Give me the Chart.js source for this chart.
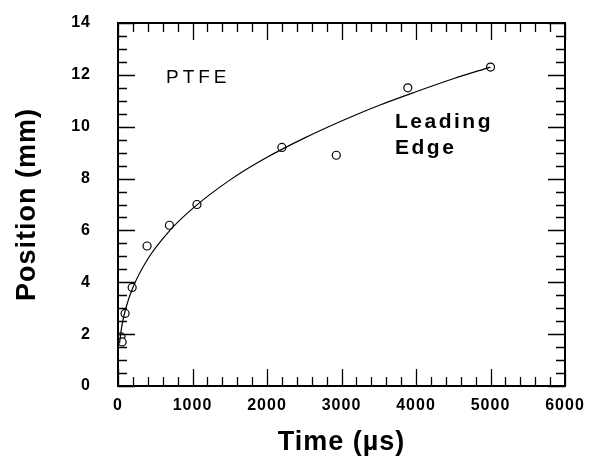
<!DOCTYPE html>
<html>
<head>
<meta charset="utf-8">
<script src="https://cdn.jsdelivr.net/npm/chart.js@4.4.0/dist/chart.umd.min.js"></script>
<style>
  html, body { margin: 0; padding: 0; background: #fff; overflow: hidden; }
  .chart-wrapper { width: 592px; height: 471px; position: relative; }
</style>
</head>
<body>
<div class="chart-wrapper"><canvas id="positionChart"></canvas></div>
<script>
  // measured points: time (µs) / position (mm)
  let pointTimes = [40, 55, 95, 190, 390, 690, 1060, 2200, 2930, 3890, 5000];
  let pointPositions = [1.9, 1.7, 2.8, 3.8, 5.4, 6.2, 7.0, 9.2, 8.9, 11.5, 12.3];

  // fitted curve
  let curveTimes = [20, 50, 100, 200, 400, 700, 1000, 1500, 2000, 2500, 3000, 3500, 4000, 4500, 5000];
  let curvePositions = [1.64, 2.29, 2.95, 3.8, 4.9, 6.01, 6.84, 7.94, 8.82, 9.56, 10.22, 10.82, 11.35, 11.85, 12.3];

  // axis ticks
  let xTickValues = [0, 1000, 2000, 3000, 4000, 5000, 6000];
  let yTickValues = [0, 2, 4, 6, 8, 10, 12, 14];

  // text labels inside the plot
  let noteTexts = ["PTFE", "Leading", "Edge"];
  let noteTimes = [644, 3718, 3718];
  let notePositions = [11.7, 9.96, 8.96];

  let fontFamily = "'Liberation Sans', Arial, Helvetica, sans-serif";

  // ticks on all four sides, pointing inward, plus the frame
  const frameTicks = {
    id: 'frameTicks',
    beforeDraw(chart) {
      chart.ctx.letterSpacing = '1px';
    },
    afterDatasetsDraw(chart) {
      const { ctx, chartArea: a, scales: { x, y } } = chart;
      ctx.save();
      ctx.strokeStyle = '#000';
      ctx.lineWidth = 1.3;
      ctx.beginPath();
      for (let v = x.min; v <= x.max; v += 200) {
        const px = Math.round(x.getPixelForValue(v)) + 0.5;
        const len = v % 1000 === 0 ? 17 : 9;
        ctx.moveTo(px, a.bottom); ctx.lineTo(px, a.bottom - len);
        ctx.moveTo(px, a.top); ctx.lineTo(px, a.top + len);
      }
      for (let v = y.min; v <= y.max; v += 0.5) {
        const py = Math.round(y.getPixelForValue(v)) + 0.5;
        const len = v % 2 === 0 ? 17 : 9;
        ctx.moveTo(a.left, py); ctx.lineTo(a.left + len, py);
        ctx.moveTo(a.right, py); ctx.lineTo(a.right - len, py);
      }
      ctx.stroke();
      ctx.lineWidth = 2;
      ctx.strokeRect(a.left, a.top, a.right - a.left, a.bottom - a.top);

      // notes
      ctx.fillStyle = '#000';
      ctx.textAlign = 'left';
      ctx.textBaseline = 'alphabetic';
      noteTexts.forEach((t, i) => {
        if (i === 0) {
          ctx.font = 'normal 19px ' + fontFamily;
          ctx.letterSpacing = '4px';
        } else {
          ctx.font = 'bold 21px ' + fontFamily;
          ctx.letterSpacing = '2.5px';
        }
        ctx.fillText(t, x.getPixelForValue(noteTimes[i]), y.getPixelForValue(notePositions[i]));
      });
      ctx.restore();
    }
  };

  // drop the label overhang padding so the plot box sits where the layout padding says
  function noPad(s) {
    s.paddingLeft = 0; s.paddingRight = 0; s.paddingTop = 0; s.paddingBottom = 0;
  }

  let ctx = document.getElementById('positionChart').getContext('2d');
  new Chart(ctx, {
    type: 'scatter',
    data: {
      datasets: [
        {
          label: 'Fit',
          data: curveTimes.map((t, i) => ({ x: t, y: curvePositions[i] })),
          showLine: true,
          borderColor: '#000',
          borderWidth: 1.2,
          pointRadius: 0,
          tension: 0.4,
          cubicInterpolationMode: 'monotone',
        },
        {
          label: 'Leading Edge',
          data: pointTimes.map((t, i) => ({ x: t, y: pointPositions[i] })),
          pointStyle: 'circle',
          pointRadius: 4,
          borderColor: '#000',
          backgroundColor: '#fff',
          borderWidth: 1.2,
        },
      ],
    },
    options: {
      responsive: true,
      maintainAspectRatio: false,
      animation: false,
      layout: { padding: { left: 6, right: 27, top: 23, bottom: 10 } },
      plugins: { legend: { display: false }, tooltip: { enabled: false } },
      scales: {
        x: {
          type: 'linear',
          min: 0,
          max: 6000,
          afterBuildTicks: s => { s.ticks = xTickValues.map(v => ({ value: v })); },
          afterFit: s => { s.height = 75; noPad(s); },
          grid: { display: false, drawTicks: false },
          border: { display: false },
          ticks: {
            color: '#000',
            padding: 10,
            maxRotation: 0,
            callback: v => String(v),
            font: { family: fontFamily, size: 16, weight: 'bold' },
          },
          title: {
            display: true,
            text: 'Time (µs)',
            color: '#000',
            font: { family: fontFamily, size: 27, weight: 'bold' },
            padding: { top: 0, bottom: 2 },
          },
        },
        y: {
          type: 'linear',
          min: 0,
          max: 14,
          afterBuildTicks: s => { s.ticks = yTickValues.map(v => ({ value: v })); },
          afterFit: s => { s.width = 112; noPad(s); },
          grid: { display: false, drawTicks: false },
          border: { display: false },
          ticks: {
            color: '#000',
            padding: 27,
            callback: v => String(v),
            font: { family: fontFamily, size: 16, weight: 'bold' },
          },
          title: {
            display: true,
            text: 'Position (mm)',
            color: '#000',
            font: { family: fontFamily, size: 27, weight: 'bold' },
            padding: { top: 5, bottom: 0 },
          },
        },
      },
    },
    plugins: [frameTicks],
  });
</script>
</body>
</html>
